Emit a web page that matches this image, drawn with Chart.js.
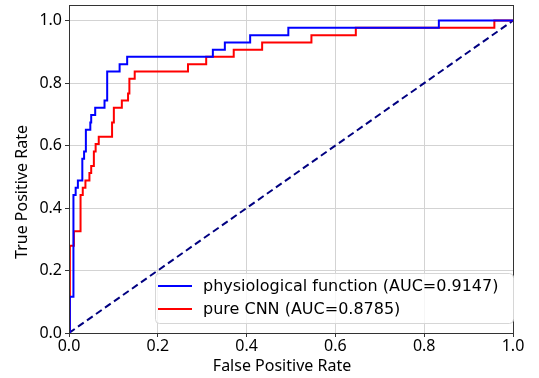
<!DOCTYPE html>
<html>
<head>
<meta charset="utf-8">
<script src="https://cdn.jsdelivr.net/npm/chart.js@4"></script>
<style>
  html, body { margin: 0; padding: 0; background: #fff; }
  #wrap { width: 539px; height: 378px; }
</style>
</head>
<body>
<div id="wrap"><canvas id="roc"></canvas></div>
<script>
// ROC points (corner points of the step curves)
const physioFpr = [0, 0.002, 0.002, 0.010, 0.010, 0.015, 0.015, 0.020, 0.020, 0.030, 0.030, 0.034, 0.034, 0.038, 0.038, 0.048, 0.048, 0.050, 0.050, 0.059, 0.059, 0.080, 0.080, 0.086, 0.086, 0.114, 0.114, 0.131, 0.131, 0.324, 0.324, 0.351, 0.351, 0.408, 0.408, 0.494, 0.494, 0.833, 0.833, 1];
const physioTpr = [0, 0, 0.116, 0.116, 0.442, 0.442, 0.465, 0.465, 0.488, 0.488, 0.558, 0.558, 0.581, 0.581, 0.651, 0.651, 0.674, 0.674, 0.698, 0.698, 0.721, 0.721, 0.744, 0.744, 0.837, 0.837, 0.860, 0.860, 0.884, 0.884, 0.907, 0.907, 0.930, 0.930, 0.953, 0.953, 0.977, 0.977, 1, 1];
const cnnFpr = [0, 0.002, 0.002, 0.011, 0.011, 0.026, 0.026, 0.031, 0.031, 0.037, 0.037, 0.046, 0.046, 0.050, 0.050, 0.056, 0.056, 0.060, 0.060, 0.067, 0.067, 0.097, 0.097, 0.101, 0.101, 0.119, 0.119, 0.133, 0.133, 0.136, 0.136, 0.148, 0.148, 0.268, 0.268, 0.309, 0.309, 0.371, 0.371, 0.435, 0.435, 0.546, 0.546, 0.646, 0.646, 0.958, 0.958, 1];
const cnnTpr = [0, 0, 0.279, 0.279, 0.326, 0.326, 0.442, 0.442, 0.465, 0.465, 0.488, 0.488, 0.512, 0.512, 0.535, 0.535, 0.581, 0.581, 0.605, 0.605, 0.628, 0.628, 0.674, 0.674, 0.721, 0.721, 0.744, 0.744, 0.767, 0.767, 0.814, 0.814, 0.837, 0.837, 0.860, 0.860, 0.884, 0.884, 0.907, 0.907, 0.930, 0.930, 0.953, 0.953, 0.977, 0.977, 1, 1];
const chanceFpr = [0, 1];
const chanceTpr = [0, 1];
const seriesLabels = ['physiological function (AUC=0.9147)', 'pure CNN (AUC=0.8785)'];
const xTicks = [0, 0.2, 0.4, 0.6, 0.8, 1.0];
const yTicks = [0, 0.2, 0.4, 0.6, 0.8, 1.0];
const xTitle = 'False Positive Rate';
const yTitle = 'True Positive Rate';

const pts = (xs, ys) => xs.map((x, i) => ({ x: x, y: ys[i] }));
const tickFont = { family: 'Noto Sans', size: 16 };

// box around plot, axis titles, legend inside lower right
const framePlugin = {
    id: 'frame',
    afterDatasetsDraw(chart) {
        const ctx = chart.ctx;
        const a = chart.chartArea;
        ctx.save();
        ctx.strokeStyle = '#333';
        ctx.lineWidth = 1;
        ctx.strokeRect(a.left + 0.5, a.top + 0.5, a.right - a.left, a.bottom - a.top);

        // axis titles
        ctx.fillStyle = '#000';
        ctx.font = '16px "Noto Sans"';
        ctx.textAlign = 'center';
        ctx.textBaseline = 'middle';
        ctx.fillText(xTitle, 282, 366);
        ctx.save();
        ctx.translate(22, 192);
        ctx.rotate(-Math.PI / 2);
        ctx.fillText(yTitle, 0, 0);
        ctx.restore();

        // legend
        const x0 = 155, y0 = 273, w = 358, h = 50, r = 4;
        ctx.beginPath();
        ctx.roundRect(x0 + 0.5, y0 + 0.5, w, h, r);
        ctx.fillStyle = 'rgba(255,255,255,0.8)';
        ctx.fill();
        ctx.strokeStyle = '#d6d6d6';
        ctx.stroke();
        ctx.font = '16px "DejaVu Sans"';
        ctx.textAlign = 'left';
        ctx.textBaseline = 'middle';
        const colors = ['blue', 'red'];
        const rows = [286, 309];
        seriesLabels.forEach((lab, i) => {
            ctx.strokeStyle = colors[i];
            ctx.lineWidth = 2;
            ctx.beginPath();
            ctx.moveTo(158, rows[i]);
            ctx.lineTo(192, rows[i]);
            ctx.stroke();
            ctx.fillStyle = '#000';
            ctx.fillText(lab, 203, rows[i] + 1);
        });
        ctx.restore();
    }
};

new Chart(document.getElementById('roc'), {
    type: 'line',
    data: {
        datasets: [
            {
                label: seriesLabels[0],
                data: pts(physioFpr, physioTpr),
                borderColor: 'blue',
                borderWidth: 2,
                pointRadius: 0,
                fill: false
            },
            {
                label: seriesLabels[1],
                data: pts(cnnFpr, cnnTpr),
                borderColor: 'red',
                borderWidth: 2,
                pointRadius: 0,
                fill: false
            },
            {
                label: 'chance',
                data: pts(chanceFpr, chanceTpr),
                borderColor: 'navy',
                borderWidth: 2,
                borderDash: [7, 4],
                pointRadius: 0,
                fill: false
            }
        ]
    },
    options: {
        responsive: true,
        maintainAspectRatio: false,
        animation: false,
        layout: { padding: { top: 5, right: 26, left: 0, bottom: 0 } },
        plugins: {
            legend: { display: false },
            tooltip: { enabled: false }
        },
        scales: {
            x: {
                type: 'linear',
                min: 0,
                max: 1,
                afterBuildTicks: s => { s.ticks = xTicks.map(v => ({ value: v })); },
                afterFit: s => { s.height = 45; s.paddingLeft = 0; s.paddingRight = 0; },
                ticks: {
                    font: tickFont,
                    color: '#000',
                    padding: 0,
                    maxRotation: 0,
                    callback: v => v.toFixed(1)
                },
                grid: { color: '#d3d3d3', tickColor: '#333', tickLength: 4 },
                border: { color: '#333' }
            },
            y: {
                type: 'linear',
                min: 0,
                max: 1.05,
                afterBuildTicks: s => { s.ticks = yTicks.map(v => ({ value: v })); },
                afterFit: s => { s.width = 69; s.paddingTop = 0; s.paddingBottom = 0; },
                ticks: {
                    font: tickFont,
                    color: '#000',
                    padding: 3,
                    callback: v => v.toFixed(1)
                },
                grid: { color: '#d3d3d3', tickColor: '#333', tickLength: 4 },
                border: { color: '#333' }
            }
        }
    },
    plugins: [framePlugin]
});
</script>
</body>
</html>
